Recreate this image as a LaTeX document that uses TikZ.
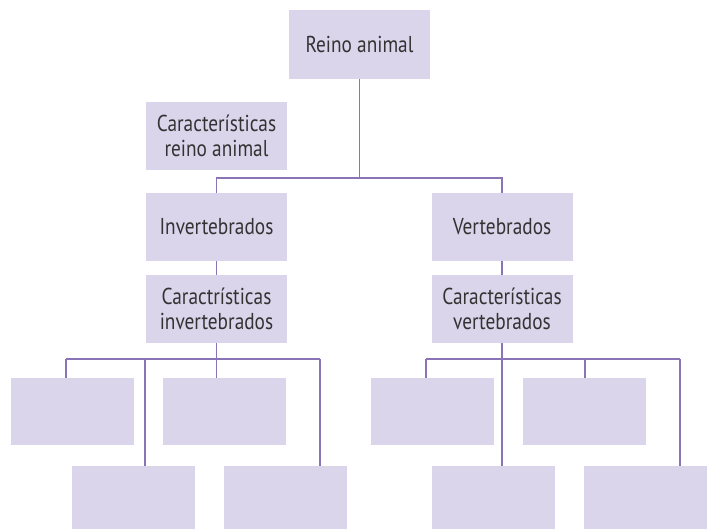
\documentclass[tikz,border=0pt]{standalone}
\usepackage{fontspec}
\setmainfont{PT Sans}[FakeStretch=0.84]
\usepackage{xcolor}
\usepackage{tikz}
\usetikzlibrary{calc,shapes,arrows,positioning}
\definecolor{boxfill}{HTML}{DAD5EB}
\definecolor{linecol}{HTML}{8A74B6}
\definecolor{textcol}{HTML}{333333}

\begin{document}
\begin{tikzpicture}[x=1pt,y=-1pt]

        \tikzstyle{box}=[fill=boxfill,text=textcol,align=center,inner sep=0pt,minimum width=141pt,minimum height=68pt,font=\fontsize{23}{25.5}\selectfont]
        \tikzstyle{leaf}=[fill=boxfill,inner sep=0pt,minimum width=123pt,minimum height=67pt]
        \tikzstyle{link}=[draw=linecol,line width=1.3pt]
        \useasboundingbox (0,0) rectangle (714,529);

        % top levels
        \node[box,minimum height=69pt] (reino) at (359.5,44.5) {Reino animal};
        \node[box] (carR) at (216.5,136) {Características\\reino animal};
        \node[box] (inv) at (216.5,227) {Invertebrados};
        \node[box] (vert) at (502,227) {Vertebrados};
        \node[box] (carI) at (216.5,309) {Caractrísticas\\invertebrados};
        \node[box] (carV) at (502,309) {Características\\vertebrados};

        % empty boxes
        \node[leaf] (L1) at (72.5,411.5) {};
        \node[leaf] (L2) at (224.5,411.5) {};
        \node[leaf] (R1) at (432.5,411.5) {};
        \node[leaf] (R2) at (584.5,411.5) {};
        \node[leaf,minimum height=63pt] (L3) at (133.5,497.5) {};
        \node[leaf,minimum height=63pt] (L4) at (285.5,497.5) {};
        \node[leaf,minimum height=63pt] (R3) at (493.5,497.5) {};
        \node[leaf,minimum height=63pt] (R4) at (645.5,497.5) {};

        \coordinate (j) at (359.5,178);
        \draw[link] (reino) -- (j);
        \draw[link] (j) -| (inv.north);
        \draw[link] (j) -| (vert.north);
        \draw[link] (inv) -- (carI);
        \draw[link] (vert) -- (carV);

        % buses
        \coordinate (dL1) at (66,359);
        \coordinate (dL3) at (145,359);
        \coordinate (dL2) at (216.5,359);
        \coordinate (dL4) at (320,359);
        \coordinate (dR1) at (426,359);
        \coordinate (dR3) at (502,359);
        \coordinate (dR2) at (585,359);
        \coordinate (dR4) at (680,359);
        \draw[link] (carI.south) -- (dL2);
        \draw[link] (carV.south) -- (dR3);
        \draw[link] (dL1) -- (dL4);
        \draw[link] (dR1) -- (dR4);
        \foreach \d/\b in {dL1/L1,dL2/L2,dL3/L3,dL4/L4,dR1/R1,dR2/R2,dR3/R3,dR4/R4}
          \draw[link] (\d) -- (\d |- \b.north);

\end{tikzpicture}
\end{document}
